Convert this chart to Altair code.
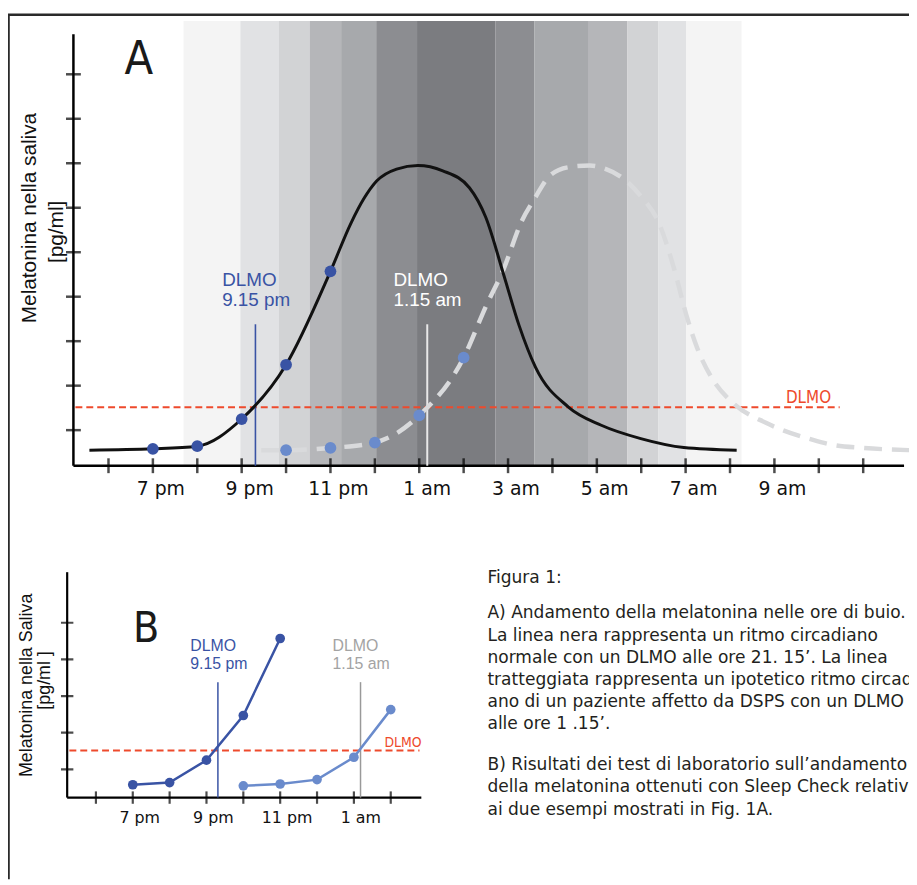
import altair as alt
import pandas as pd

# ---------------- data (hours counted from 18:00 -> 0 = 6 pm) ----------------
tick_hours_A = list(range(0, 18))
label_hours_A = [1, 3, 5, 7, 9, 11, 13, 15]
label_text_A = ["7 pm", "9 pm", "11 pm", "1 am", "3 am", "5 am", "7 am", "9 am"]
tick_levels_A = [1, 2, 3, 4, 5, 6, 7, 8, 9]

tick_hours_B = list(range(0, 9))
label_hours_B = [1, 3, 5, 7]
label_text_B = ["7 pm", "9 pm", "11 pm", "1 am"]
tick_levels_B = [1, 2, 3, 4, 5]

# saliva samples (Sleep Check)
sample_hours_normal = [1, 2, 3, 4, 5]
sample_mel_normal = [0.58, 0.64, 1.25, 2.47, 4.57]
sample_hours_dsps = [4, 5, 6, 7, 8]
sample_mel_dsps = [0.55, 0.60, 0.72, 1.33, 2.63]

# full melatonin curves (panel A)
curve_hours_normal = [-0.43, 1.0, 2.0, 3.0, 4.0, 5.0, 5.46, 5.75, 6.04, 6.49, 6.97, 7.53, 8.13,
                      8.5, 8.9, 9.25, 9.62, 10.36, 11.1, 11.99, 12.96, 14.15]
curve_mel_normal = [0.55, 0.58, 0.64, 1.25, 2.47, 4.57, 5.65, 6.2, 6.6, 6.87, 6.95, 6.83, 6.45,
                    5.78, 4.5, 3.35, 2.41, 1.52, 1.11, 0.81, 0.61, 0.55]
curve_hours_dsps = [3.44, 4.0, 5.0, 6.0, 7.0, 8.0, 8.5, 8.9, 9.3, 9.62, 9.91, 10.35, 10.84,
                    11.18, 11.55, 12.0, 12.41, 12.74, 13.01, 13.26, 13.63, 14.08, 14.82,
                    15.87, 16.31, 17.0, 18.05]
curve_mel_dsps = [0.55, 0.55, 0.60, 0.72, 1.33, 2.63, 3.78, 4.62, 5.68, 6.24, 6.69, 6.91, 6.95,
                  6.88, 6.69, 6.25, 5.63, 4.63, 3.61, 2.85, 2.11, 1.60, 1.16,
                  0.78, 0.67, 0.60, 0.55]

# darkness bands
band_start = [1.69, 2.97, 3.83, 4.53, 5.24, 6.03, 6.95, 8.72, 9.59, 10.82, 11.69, 12.39, 13.01]
band_end = [2.97, 3.83, 4.53, 5.24, 6.03, 6.95, 8.72, 9.59, 10.82, 11.69, 12.39, 13.01, 14.26]
band_darkness = [1, 2, 3, 4, 5, 6, 7, 6, 5, 4, 3, 2, 1]

dlmo_threshold = 1.515
dlmo_hours = [3.31, 7.18]
dlmo_line_top = 3.38
dlmo_label_hours = [2.56, 6.42]
dlmo_label_level = 4.24
dlmo_label_text = ["DLMO\n9.15 pm", "DLMO\n1.15 am"]

caption_title = "Figura 1:"
caption_A = ["A) Andamento della melatonina nelle ore di buio.",
             "La linea nera rappresenta un ritmo circadiano",
             "normale con un DLMO alle ore 21. 15\u2019. La linea",
             "tratteggiata rappresenta un ipotetico ritmo circadi",
             "ano di un paziente affetto da DSPS con un DLMO",
             "alle ore 1 .15\u2019."]
caption_B = ["B) Risultati dei test di laboratorio sull\u2019andamento",
             "della melatonina ottenuti con Sleep Check  relativi",
             "ai due esempi mostrati in Fig. 1A."]

# ---------------- scales ----------------
XA_DOM = [-0.79, 17.92]
YA_DOM = [0.2, 9.9]
XB_DOM = [-0.78, 8.83]
YB_DOM = [0.23, 6.38]
XA = alt.Scale(domain=XA_DOM, range=[66, 904], nice=False, zero=False)
YA = alt.Scale(domain=YA_DOM, range=[457.9, 22.6], nice=False, zero=False)
XB = alt.Scale(domain=XB_DOM, range=[59.7, 417], nice=False, zero=False)
YB = alt.Scale(domain=YB_DOM, range=[792.7, 565.3], nice=False, zero=False)
BAND_TOP = 10.2

BLACK = "#111111"
DARK_BLUE = "#3953a4"
LIGHT_BLUE = "#6a8bcc"
RED = "#ee4a2c"
GREYS = ["#f4f4f4", "#e1e2e4", "#d2d3d5", "#b5b6b9", "#a7a9ac", "#8c8d91", "#7b7c80"]
NARROW = "DejaVu Sans Condensed, Liberation Sans Narrow, Liberation Sans, sans-serif"


def X(field, sc):
    return alt.X(field, type="quantitative", scale=sc, axis=None)


def Y(field, sc):
    return alt.Y(field, type="quantitative", scale=sc, axis=None)


layers = []

# frame
one = pd.DataFrame({"k": [0]})
layers.append(alt.Chart(one).mark_rule(color="#2a2a2a", strokeWidth=2.5).encode(
    x=alt.value(0), x2=alt.value(909), y=alt.value(3)))
layers.append(alt.Chart(one).mark_rule(color="#2a2a2a", strokeWidth=2).encode(
    x=alt.value(0.8), y=alt.value(3), y2=alt.value(875)))

# ---------------- panel A ----------------
bands = pd.DataFrame({"h0": band_start, "h1": band_end, "lvl": band_darkness,
                      "top": BAND_TOP, "bot": YA_DOM[0]})
layers.append(alt.Chart(bands).mark_rect().encode(
    x=X("h0", XA), x2="h1", y=Y("top", YA), y2="bot",
    color=alt.Color("lvl:O", scale=alt.Scale(domain=list(range(1, 8)), range=GREYS), legend=None)))

axA = pd.DataFrame({"h0": [XA_DOM[0]], "h1": [XA_DOM[1]], "v0": [YA_DOM[0]], "v1": [YA_DOM[1]]})
layers.append(alt.Chart(axA).mark_rule(color="black", strokeWidth=2.5).encode(
    x=X("h0", XA), x2="h1", y=Y("v0", YA)))
layers.append(alt.Chart(axA).mark_rule(color="black", strokeWidth=2.5).encode(
    x=X("h0", XA), y=Y("v0", YA), y2="v1"))

ticksA = pd.DataFrame({"h": tick_hours_A, "v": YA_DOM[0]})
layers.append(alt.Chart(ticksA).mark_tick(orient="vertical", size=15, thickness=2.5, color="black").encode(
    x=X("h", XA), y=Y("v", YA)))
yticksA = pd.DataFrame({"h": XA_DOM[0], "v": tick_levels_A})
layers.append(alt.Chart(yticksA).mark_tick(orient="horizontal", size=15, thickness=2.5, color="black").encode(
    x=X("h", XA), y=Y("v", YA)))

labA = pd.DataFrame({"h": label_hours_A, "v": YA_DOM[0], "t": label_text_A})
layers.append(alt.Chart(labA).mark_text(font="DejaVu Sans", fontSize=19, align="center",
                                        baseline="alphabetic", dx=8, dy=30, color="#111").encode(
    x=X("h", XA), y=Y("v", YA), text="t:N"))

redA = pd.DataFrame({"h0": [-0.745], "h1": [16.47], "v": [dlmo_threshold]})
layers.append(alt.Chart(redA).mark_rule(color=RED, strokeWidth=2, strokeDash=[7, 4]).encode(
    x=X("h0", XA), x2="h1", y=Y("v", YA)))
layers.append(alt.Chart(pd.DataFrame({"h": [15.26], "v": [1.60], "t": ["DLMO"]})).mark_text(
    font=NARROW, fontSize=17, align="left", baseline="alphabetic", color=RED).encode(
    x=X("h", XA), y=Y("v", YA), text="t:N"))

dlA = pd.DataFrame({"h": dlmo_hours, "top": dlmo_line_top, "bot": YA_DOM[0]})
layers.append(alt.Chart(dlA.iloc[[0]]).mark_rule(color=DARK_BLUE, strokeWidth=1.6).encode(
    x=X("h", XA), y=Y("top", YA), y2="bot"))
layers.append(alt.Chart(dlA.iloc[[1]]).mark_rule(color="#e8e8e8", strokeWidth=2).encode(
    x=X("h", XA), y=Y("top", YA), y2="bot"))

dsps_curve = pd.DataFrame({"h": curve_hours_dsps, "v": curve_mel_dsps})
layers.append(alt.Chart(dsps_curve).mark_line(interpolate="monotone", color="#d9dadc",
                                              strokeWidth=4.5, strokeDash=[18, 10]).encode(
    x=X("h", XA), y=Y("v", YA)))
norm_curve = pd.DataFrame({"h": curve_hours_normal, "v": curve_mel_normal})
layers.append(alt.Chart(norm_curve).mark_line(interpolate="monotone", color=BLACK, strokeWidth=3).encode(
    x=X("h", XA), y=Y("v", YA)))

s_norm = pd.DataFrame({"h": sample_hours_normal, "v": sample_mel_normal})
s_dsps = pd.DataFrame({"h": sample_hours_dsps, "v": sample_mel_dsps})
layers.append(alt.Chart(s_norm).mark_circle(size=140, opacity=1, color=DARK_BLUE).encode(
    x=X("h", XA), y=Y("v", YA)))
layers.append(alt.Chart(s_dsps).mark_circle(size=140, opacity=1, color=LIGHT_BLUE).encode(
    x=X("h", XA), y=Y("v", YA)))

dlab = pd.DataFrame({"h": dlmo_label_hours, "v": dlmo_label_level, "t": dlmo_label_text})
layers.append(alt.Chart(dlab.iloc[[0]]).mark_text(font="Liberation Sans", fontSize=19, lineHeight=20,
                                                  lineBreak="\n", align="left", baseline="alphabetic",
                                                  color=DARK_BLUE).encode(
    x=X("h", XA), y=Y("v", YA), text="t:N"))
layers.append(alt.Chart(dlab.iloc[[1]]).mark_text(font="Liberation Sans", fontSize=19, lineHeight=20,
                                                  lineBreak="\n", align="left", baseline="alphabetic",
                                                  color="white").encode(
    x=X("h", XA), y=Y("v", YA), text="t:N"))

layers.append(alt.Chart(pd.DataFrame({"t": ["A"]})).mark_text(
    font=NARROW, fontSize=47, align="center", baseline="alphabetic", color="#1a1a1a").encode(
    x=alt.value(132), y=alt.value(63), text="t:N"))
layers.append(alt.Chart(pd.DataFrame({"t": ["Melatonina nella saliva"]})).mark_text(
    font="Liberation Sans", fontSize=21, angle=270, align="center", baseline="middle", color="#111").encode(
    x=alt.value(22), y=alt.value(208), text="t:N"))
layers.append(alt.Chart(pd.DataFrame({"t": ["[pg/ml]"]})).mark_text(
    font="Liberation Sans", fontSize=21, angle=270, align="center", baseline="middle", color="#111").encode(
    x=alt.value(49), y=alt.value(222), text="t:N"))

# ---------------- panel B ----------------
axB = pd.DataFrame({"h0": [XB_DOM[0]], "h1": [XB_DOM[1]], "v0": [YB_DOM[0]], "v1": [YB_DOM[1]]})
layers.append(alt.Chart(axB).mark_rule(color="black", strokeWidth=2.2).encode(
    x=X("h0", XB), x2="h1", y=Y("v0", YB)))
layers.append(alt.Chart(axB).mark_rule(color="black", strokeWidth=2.2).encode(
    x=X("h0", XB), y=Y("v0", YB), y2="v1"))
ticksB = pd.DataFrame({"h": tick_hours_B, "v": YB_DOM[0]})
layers.append(alt.Chart(ticksB).mark_tick(orient="vertical", size=12.5, thickness=2.2, color="black").encode(
    x=X("h", XB), y=Y("v", YB)))
yticksB = pd.DataFrame({"h": XB_DOM[0], "v": tick_levels_B})
layers.append(alt.Chart(yticksB).mark_tick(orient="horizontal", size=12.5, thickness=2.2, color="black").encode(
    x=X("h", XB), y=Y("v", YB)))
labB = pd.DataFrame({"h": label_hours_B, "v": YB_DOM[0], "t": label_text_B})
layers.append(alt.Chart(labB).mark_text(font="DejaVu Sans", fontSize=16, align="center",
                                        baseline="alphabetic", dx=7, dy=26, color="#111").encode(
    x=X("h", XB), y=Y("v", YB), text="t:N"))

redB = pd.DataFrame({"h0": [-0.72], "h1": [8.78], "v": [dlmo_threshold]})
layers.append(alt.Chart(redB).mark_rule(color=RED, strokeWidth=2, strokeDash=[7, 4]).encode(
    x=X("h0", XB), x2="h1", y=Y("v", YB)))
layers.append(alt.Chart(pd.DataFrame({"h": [7.83], "v": [1.60], "t": ["DLMO"]})).mark_text(
    font=NARROW, fontSize=14, align="left", baseline="alphabetic", color=RED).encode(
    x=X("h", XB), y=Y("v", YB), text="t:N"))

dlB = pd.DataFrame({"h": dlmo_hours, "top": dlmo_line_top, "bot": YB_DOM[0]})
layers.append(alt.Chart(dlB.iloc[[0]]).mark_rule(color=DARK_BLUE, strokeWidth=1.5).encode(
    x=X("h", XB), y=Y("top", YB), y2="bot"))
layers.append(alt.Chart(dlB.iloc[[1]]).mark_rule(color="#999999", strokeWidth=1.5).encode(
    x=X("h", XB), y=Y("top", YB), y2="bot"))

layers.append(alt.Chart(s_norm).mark_line(color=DARK_BLUE, strokeWidth=2.5).encode(
    x=X("h", XB), y=Y("v", YB)))
layers.append(alt.Chart(s_norm).mark_circle(size=95, opacity=1, color=DARK_BLUE).encode(
    x=X("h", XB), y=Y("v", YB)))
layers.append(alt.Chart(s_dsps).mark_line(color=LIGHT_BLUE, strokeWidth=2.5).encode(
    x=X("h", XB), y=Y("v", YB)))
layers.append(alt.Chart(s_dsps).mark_circle(size=95, opacity=1, color=LIGHT_BLUE).encode(
    x=X("h", XB), y=Y("v", YB)))

layers.append(alt.Chart(dlab.iloc[[0]]).mark_text(font="Liberation Sans", fontSize=16, lineHeight=18.5,
                                                  lineBreak="\n", align="left", baseline="alphabetic",
                                                  color=DARK_BLUE).encode(
    x=X("h", XB), y=Y("v", YB), text="t:N"))
layers.append(alt.Chart(dlab.iloc[[1]]).mark_text(font="Liberation Sans", fontSize=16, lineHeight=18.5,
                                                  lineBreak="\n", align="left", baseline="alphabetic",
                                                  color="#a3a3a3").encode(
    x=X("h", XB), y=Y("v", YB), text="t:N"))

layers.append(alt.Chart(pd.DataFrame({"t": ["B"]})).mark_text(
    font=NARROW, fontSize=43, align="center", baseline="alphabetic", color="#1a1a1a").encode(
    x=alt.value(139.5), y=alt.value(635.3), text="t:N"))
layers.append(alt.Chart(pd.DataFrame({"t": ["Melatonina nella Saliva"]})).mark_text(
    font="Liberation Sans", fontSize=18, angle=270, align="center", baseline="middle", color="#111").encode(
    x=alt.value(19.5), y=alt.value(679.5), text="t:N"))
layers.append(alt.Chart(pd.DataFrame({"t": ["[pg/ml ]"]})).mark_text(
    font="Liberation Sans", fontSize=18, angle=270, align="center", baseline="middle", color="#111").encode(
    x=alt.value(37), y=alt.value(674.5), text="t:N"))

# ---------------- caption ----------------
cap_style = dict(font="DejaVu Sans", fontSize=17.2, lineHeight=22.4, lineBreak="\n",
                 align="left", baseline="alphabetic", color="#231f20")
layers.append(alt.Chart(pd.DataFrame({"t": [caption_title]})).mark_text(**cap_style).encode(
    x=alt.value(483.7), y=alt.value(576.5), text="t:N"))
layers.append(alt.Chart(pd.DataFrame({"t": ["\n".join(caption_A)]})).mark_text(**cap_style).encode(
    x=alt.value(483.7), y=alt.value(612), text="t:N"))
layers.append(alt.Chart(pd.DataFrame({"t": ["\n".join(caption_B)]})).mark_text(**cap_style).encode(
    x=alt.value(483.7), y=alt.value(765), text="t:N"))

chart = alt.layer(*layers).resolve_scale(
    x="independent", y="independent", color="independent"
).properties(
    width=909, height=877, padding=0, autosize=alt.AutoSizeParams(type="none")
).configure_view(stroke=None)

chart.save("out.html", embed_options={"renderer": "svg", "actions": False})
